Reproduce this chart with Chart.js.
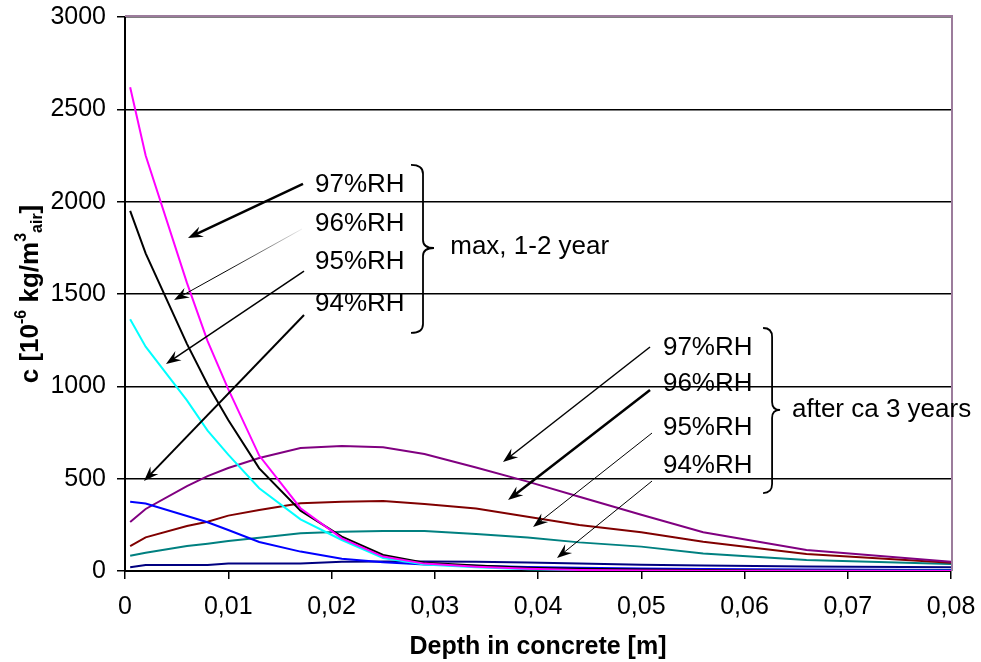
<!DOCTYPE html>
<html>
<head>
<meta charset="utf-8">
<script src="https://cdn.jsdelivr.net/npm/chart.js@4"></script>
<style>
  html, body { margin: 0; padding: 0; background: #fff; }
  canvas { display: block; }
</style>
</head>
<body>
<canvas id="myChart" width="981" height="662"></canvas>
<script>
// depth in concrete [m]
const depth = [0.0005, 0.002, 0.006, 0.008, 0.010, 0.013, 0.017, 0.021, 0.025, 0.029, 0.034, 0.039, 0.044, 0.050, 0.056, 0.066, 0.080];

// max, 1-2 year
const max97 = [2620, 2250, 1560, 1245, 985, 625, 340, 177, 78, 40, 23, 12, 6, 3, 2, 1, 0];
const max96 = [1950, 1720, 1230, 1010, 818, 556, 327, 186, 87, 45, 30, 18, 12, 8, 5, 3, 2];
const max95 = [1363, 1215, 924, 760, 630, 448, 280, 168, 70, 35, 20, 10, 6, 4, 3, 2, 1];
const max94 = [375, 365, 298, 264, 222, 157, 105, 66, 48, 35, 28, 22, 18, 14, 11, 8, 5];

// after ca 3 years
const after97 = [265, 336, 460, 514, 558, 612, 666, 677, 670, 634, 560, 484, 402, 305, 210, 114, 50];
const after96 = [135, 182, 244, 267, 300, 330, 367, 375, 379, 363, 338, 294, 249, 210, 159, 92, 45];
const after95 = [83, 99, 135, 148, 162, 180, 204, 213, 216, 217, 200, 182, 155, 132, 95, 60, 38];
const after94 = [20, 32, 32, 32, 41, 41, 41, 50, 52, 52, 50, 46, 40, 34, 30, 25, 20];

const xTicks = [0, 0.01, 0.02, 0.03, 0.04, 0.05, 0.06, 0.07, 0.08];
const xTickLabels = ['0', '0,01', '0,02', '0,03', '0,04', '0,05', '0,06', '0,07', '0,08'];
const yTickLabels = ['0', '500', '1000', '1500', '2000', '2500', '3000'];

const seriesLabels = ['97%RH max', '96%RH max', '95%RH max', '94%RH max',
                      '97%RH 3 years', '96%RH 3 years', '95%RH 3 years', '94%RH 3 years'];
const seriesValues = [max97, max96, max95, max94, after97, after96, after95, after94];
const seriesColors = ['#ff00ff', '#000000', '#00ffff', '#0000ff', '#800080', '#800000', '#008080', '#000080'];

// annotations, in chart units (depth, c)
const noteLabels = ['97%RH', '96%RH', '95%RH', '94%RH'];
const leftNoteY = [2090, 1880, 1675, 1445];
const rightNoteY = [1210, 1013, 774, 569];
const leftArrows = [  // [x1, y1, x2, y2, width]
  [0.01724, 2096, 0.0061, 1803, 2.5],
  [0.01714, 1852, 0.00475, 1467, 1],
  [0.01734, 1624, 0.00397, 1121, 1.5],
  [0.01734, 1386, 0.00184, 487, 2]
];
const rightArrows = [
  [0.05085, 1213, 0.03661, 590, 1.5],
  [0.05085, 980, 0.0371, 384, 2.5],
  [0.05104, 747, 0.03952, 238, 1],
  [0.05104, 487, 0.04184, 70, 1]
];

const FONT = 'Liberation Sans, Arial, sans-serif';

function drawArrow(c, x1, y1, x2, y2, w, fade) {
    let ang = Math.atan2(y2 - y1, x2 - x1);
    let cs = Math.cos(ang), sn = Math.sin(ang);
    let L = 15, H = 5.5;
    let nx = x2 - cs * L * 0.6, ny = y2 - sn * L * 0.6;
    let style = '#000';
    if (fade) {
        style = c.createLinearGradient(x1, y1, x2, y2);
        style.addColorStop(0, '#f0f0f0');
        style.addColorStop(0.6, '#000');
    }
    c.strokeStyle = style;
    c.lineWidth = w;
    c.beginPath();
    c.moveTo(x1, y1);
    c.lineTo(nx, ny);
    c.stroke();
    c.fillStyle = '#000';
    c.beginPath();
    c.moveTo(x2, y2);
    c.lineTo(x2 - cs * L - sn * H, y2 - sn * L + cs * H);
    c.lineTo(x2 - cs * L * 0.65, y2 - sn * L * 0.65);
    c.lineTo(x2 - cs * L + sn * H, y2 - sn * L - cs * H);
    c.closePath();
    c.fill();
}

function drawBrace(c, x, top, mid, bottom, w, tip) {
    let xs = x + w;
    c.strokeStyle = '#000';
    c.lineWidth = 1.8;
    c.beginPath();
    c.moveTo(x, top);
    c.quadraticCurveTo(xs, top, xs, top + 9);
    c.lineTo(xs, mid - 8);
    c.quadraticCurveTo(xs, mid, xs + tip, mid);
    c.quadraticCurveTo(xs, mid, xs, mid + 8);
    c.lineTo(xs, bottom - 9);
    c.quadraticCurveTo(xs, bottom, x, bottom);
    c.stroke();
}

const notesPlugin = {
    id: 'notes',
    beforeDatasetsDraw(chart) {
        let a = chart.chartArea, c = chart.ctx;
        c.save();
        c.strokeStyle = '#9c7c9c';
        c.lineWidth = 2;
        c.beginPath();
        c.moveTo(a.left, a.top - 1);
        c.lineTo(a.right + 1, a.top - 1);
        c.lineTo(a.right + 1, a.bottom);
        c.stroke();
        c.restore();
    },
    afterDatasetsDraw(chart) {
        let c = chart.ctx;
        let X = v => chart.scales.x.getPixelForValue(v);
        let Y = v => chart.scales.y.getPixelForValue(v);
        c.save();
        leftArrows.forEach((p, i) => drawArrow(c, X(p[0]), Y(p[1]), X(p[2]), Y(p[3]), p[4], i === 1));
        rightArrows.forEach(p => drawArrow(c, X(p[0]), Y(p[1]), X(p[2]), Y(p[3]), p[4], false));

        c.fillStyle = '#000';
        c.font = '26px ' + FONT;
        c.textAlign = 'left';
        c.textBaseline = 'middle';
        noteLabels.forEach((t, i) => {
            c.fillText(t, X(0.0184), Y(leftNoteY[i]));
            c.fillText(t, X(0.0521), Y(rightNoteY[i]));
        });
        c.fillText('max, 1-2 year', X(0.0315), Y(1754));
        c.fillText('after ca 3 years', X(0.0646), Y(872));

        drawBrace(c, X(0.0277), Y(2199), Y(1749), Y(1289), 12, 11);
        drawBrace(c, X(0.0618), Y(1316), Y(872), Y(422), 9, 8);
        c.restore();
    },
    afterDraw(chart) {
        // y axis title with super- and subscripts
        let c = chart.ctx, a = chart.chartArea;
        let parts = [
            ['c [10', 26, 0], ['-6', 16, -9], [' kg/m', 26, 0], ['3', 16, -9], ['air', 16, 7], [']', 26, 0]
        ];
        c.save();
        c.fillStyle = '#000';
        c.textBaseline = 'middle';
        c.textAlign = 'left';
        let total = 0;
        parts.forEach(p => { c.font = 'bold ' + p[1] + 'px ' + FONT; total += c.measureText(p[0]).width; });
        c.translate(31, (a.top + a.bottom) / 2);
        c.rotate(-Math.PI / 2);
        let x = -total / 2;
        parts.forEach(p => {
            c.font = 'bold ' + p[1] + 'px ' + FONT;
            c.fillText(p[0], x, p[2]);
            x += c.measureText(p[0]).width;
        });
        c.restore();
    }
};

let ctx = document.getElementById('myChart').getContext('2d');
let chart = new Chart(ctx, {
    type: 'line',
    data: {
        datasets: seriesValues.map((vals, i) => ({
            label: seriesLabels[i],
            data: vals.map((v, j) => ({ x: depth[j], y: v })),
            borderColor: seriesColors[i],
            backgroundColor: seriesColors[i],
            borderWidth: 2,
            pointRadius: 0,
            tension: 0,
            fill: false
        }))
    },
    options: {
        responsive: false,
        animation: false,
        layout: { padding: { top: 17, right: 30, left: 0, bottom: 0 } },
        plugins: {
            legend: { display: false },
            tooltip: { enabled: false }
        },
        scales: {
            x: {
                type: 'linear',
                min: 0,
                max: 0.08,
                afterFit: s => { s.height = 91; s.paddingLeft = 0; s.paddingRight = 0; },
                afterBuildTicks: s => { s.ticks = xTicks.map(v => ({ value: v })); },
                ticks: {
                    callback: (v, i) => xTickLabels[i],
                    font: { family: FONT, size: 25 },
                    color: '#000',
                    padding: 13,
                    maxRotation: 0,
                    autoSkip: false
                },
                grid: { drawOnChartArea: false, color: '#000', lineWidth: 1.5, tickLength: 8 },
                border: { color: '#000', width: 2 },
                title: {
                    display: true,
                    text: 'Depth in concrete [m]',
                    font: { family: FONT, size: 25, weight: 'bold' },
                    color: '#000',
                    padding: { top: 0, bottom: 0 }
                }
            },
            y: {
                min: 0,
                max: 3000,
                afterFit: s => { s.width = 125; s.paddingTop = 0; s.paddingBottom = 0; },
                ticks: {
                    stepSize: 500,
                    callback: (v, i) => yTickLabels[i],
                    font: { family: FONT, size: 25 },
                    color: '#000',
                    padding: 11
                },
                grid: { color: '#000', lineWidth: 1.5, tickLength: 8 },
                border: { color: '#000', width: 2 }
            }
        }
    },
    plugins: [notesPlugin]
});
</script>
</body>
</html>
